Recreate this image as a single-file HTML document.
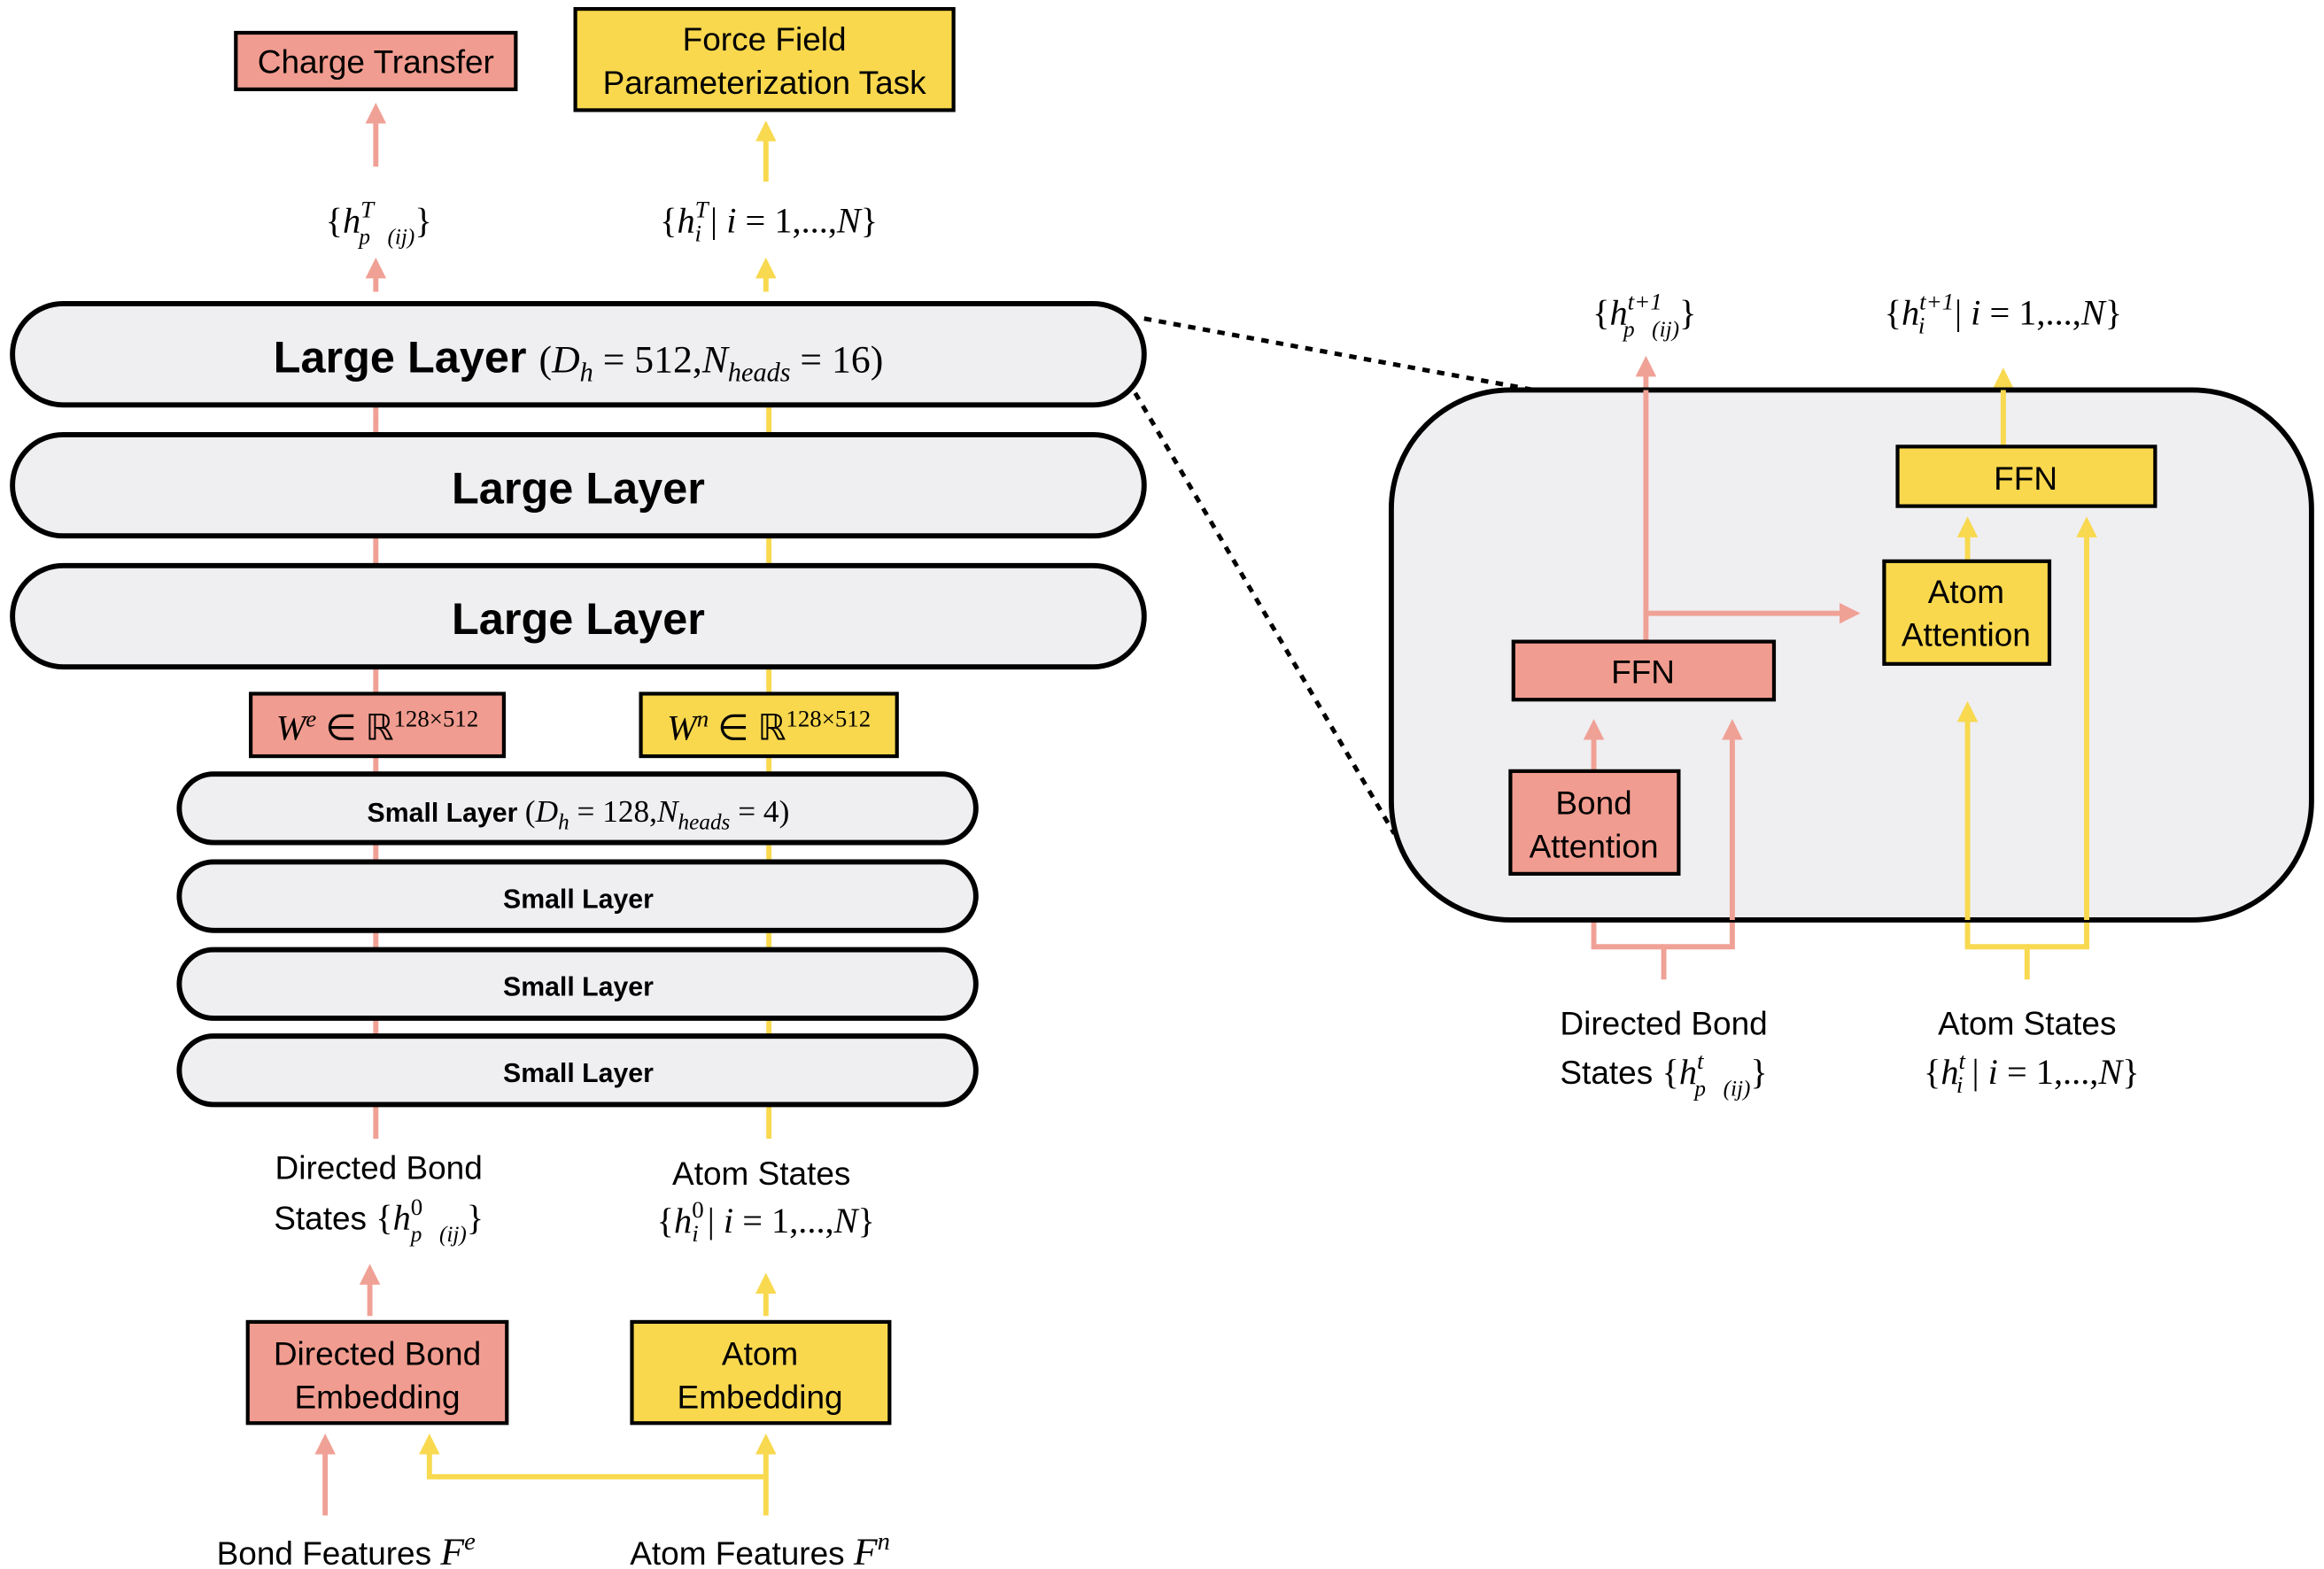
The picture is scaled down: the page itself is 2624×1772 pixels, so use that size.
<!DOCTYPE html>
<html><head><meta charset="utf-8"><style>
html,body{margin:0;padding:0;background:#fff;}
svg{display:block;}
.s{font-family:"Liberation Sans",sans-serif;}
.m{font-family:"Liberation Serif",serif;}
</style></head><body>
<svg width="2624" height="1772" viewBox="0 0 1560 1054" xmlns="http://www.w3.org/2000/svg">
<defs>
<marker id="ap" markerWidth="4" markerHeight="4" refX="2" refY="2" orient="auto" markerUnits="strokeWidth"><path d="M0,0 L4,2 L0,4 Z" fill="#F0A196"/></marker>
<marker id="ay" markerWidth="4" markerHeight="4" refX="2" refY="2" orient="auto" markerUnits="strokeWidth"><path d="M0,0 L4,2 L0,4 Z" fill="#F8D94F"/></marker>
</defs>
<g fill="none" stroke-width="3.5">
<!-- left vertical lines -->
<path d="M252,765 V204" stroke="#F0A196"/>
<path d="M516,765 V204" stroke="#F8D94F"/>
<path d="M252,196 V180" stroke="#F0A196" marker-end="url(#ap)"/>
<path d="M514,196 V180" stroke="#F8D94F" marker-end="url(#ay)"/>
<path d="M252,112 V76" stroke="#F0A196" marker-end="url(#ap)"/>
<path d="M514,122 V88" stroke="#F8D94F" marker-end="url(#ay)"/>
<path d="M248,884 V856" stroke="#F0A196" marker-end="url(#ap)"/>
<path d="M514,884 V862" stroke="#F8D94F" marker-end="url(#ay)"/>
<path d="M218,1018 V970" stroke="#F0A196" marker-end="url(#ap)"/>
<path d="M514,1018 V970" stroke="#F8D94F" marker-end="url(#ay)"/>
<path d="M514,992 H288 V970" stroke="#F8D94F" marker-end="url(#ay)"/>
<!-- right -->
<path d="M1105,431 V246" stroke="#F0A196" marker-end="url(#ap)"/>
<path d="M1105,412 H1242" stroke="#F0A196" marker-end="url(#ap)"/>
<path d="M1070,518 V490" stroke="#F0A196" marker-end="url(#ap)"/>
<path d="M1117,658 V636 H1163 V490" stroke="#F0A196" marker-end="url(#ap)"/>
<path d="M1117,636 H1070 V602" stroke="#F0A196" marker-end="url(#ap)"/>
<path d="M1361,658 V636 H1321 V478" stroke="#F8D94F" marker-end="url(#ay)"/>
<path d="M1361,636 H1401 V354" stroke="#F8D94F" marker-end="url(#ay)"/>
<path d="M1321,377 V354" stroke="#F8D94F" marker-end="url(#ay)"/>
<path d="M1345,300 V254" stroke="#F8D94F" marker-end="url(#ay)"/>
</g>
<!-- dotted -->
<path d="M768,214 L1030,262 M762,264 L936,560" stroke="#000" stroke-width="3" stroke-dasharray="5,5" fill="none"/>
<!-- boxes -->
<g stroke="#000" stroke-width="2.5">
<rect x="158" y="22" width="188" height="38" fill="#F19C90"/>
<rect x="386" y="6" width="254" height="68" fill="#F9D84E"/>
<rect x="168" y="466" width="170" height="42" fill="#F19C90"/>
<rect x="430" y="466" width="172" height="42" fill="#F9D84E"/>
<rect x="166" y="888" width="174" height="68" fill="#F19C90"/>
<rect x="424" y="888" width="173" height="68" fill="#F9D84E"/>
</g>
<g stroke="#000" stroke-width="3.5" fill="#EFEEF1">
<rect x="8" y="204" width="760" height="68" rx="34"/>
<rect x="8" y="292" width="760" height="68" rx="34"/>
<rect x="8" y="380" width="760" height="68" rx="34"/>
<rect x="120" y="520" width="535" height="46" rx="23"/>
<rect x="120" y="579" width="535" height="46" rx="23"/>
<rect x="120" y="638" width="535" height="46" rx="23"/>
<rect x="120" y="696" width="535" height="46" rx="23"/>
<rect x="934" y="262" width="618" height="356" rx="80"/>
</g>
<path d="M1105,262 V431" stroke="#F0A196" stroke-width="3.5"/>
<path d="M1105,412 H1242" stroke="#F0A196" stroke-width="3.5" marker-end="url(#ap)"/>
<path d="M1070,518 V490" stroke="#F0A196" stroke-width="3.5" marker-end="url(#ap)"/>
<path d="M1163,618 V490" stroke="#F0A196" stroke-width="3.5" marker-end="url(#ap)"/>
<path d="M1321,618 V478" stroke="#F8D94F" stroke-width="3.5" marker-end="url(#ay)"/>
<path d="M1401,618 V354" stroke="#F8D94F" stroke-width="3.5" marker-end="url(#ay)"/>
<path d="M1321,377 V354" stroke="#F8D94F" stroke-width="3.5" marker-end="url(#ay)"/>
<path d="M1345,300 V262" stroke="#F8D94F" stroke-width="3.5"/>
<g stroke="#000" stroke-width="2.5">
<rect x="1274" y="300" width="173" height="40" fill="#F9D84E"/>
<rect x="1265" y="377" width="111" height="69" fill="#F9D84E"/>
<rect x="1016" y="431" width="175" height="39" fill="#F19C90"/>
<rect x="1014" y="518" width="113" height="69" fill="#F19C90"/>
</g>
<!-- text -->
<g class="s" font-size="22" fill="#000" text-anchor="middle">
<text x="252" y="49">Charge Transfer</text>
<text x="513" y="34">Force Field</text>
<text x="513" y="63">Parameterization Task</text>
<text x="253" y="917">Directed Bond</text>
<text x="253" y="946">Embedding</text>
<text x="510" y="917">Atom</text>
<text x="510" y="946">Embedding</text>
<text x="254" y="792">Directed Bond</text>
<text x="511" y="796">Atom States</text>
<text x="232" y="1051">Bond Features <tspan class="m" font-style="italic" font-size="26">F</tspan><tspan class="m" font-style="italic" font-size="17" dy="-10">e</tspan></text>
<text x="510" y="1051">Atom Features <tspan class="m" font-style="italic" font-size="26">F</tspan><tspan class="m" font-style="italic" font-size="17" dy="-10">n</tspan></text>
<text x="1360" y="329">FFN</text>
<text x="1320" y="405">Atom</text>
<text x="1320" y="434">Attention</text>
<text x="1103" y="459">FFN</text>
<text x="1070" y="547">Bond</text>
<text x="1070" y="576">Attention</text>
<text x="1117" y="695">Directed Bond</text>
<text x="1361" y="695">Atom States</text>
</g>
<g class="s" font-weight="bold" fill="#000" text-anchor="middle">
<text x="388" y="338" font-size="30">Large Layer</text>
<text x="388" y="426" font-size="30">Large Layer</text>
<text x="388" y="610" font-size="18">Small Layer</text>
<text x="388" y="669" font-size="18">Small Layer</text>
<text x="388" y="727" font-size="18">Small Layer</text>
</g>
<!-- Large layer with math -->
<text x="388" y="250" text-anchor="middle" font-size="30"><tspan class="s" font-weight="bold">Large Layer </tspan><tspan class="m" font-size="26">(<tspan font-style="italic">D</tspan><tspan font-style="italic" font-size="18" dy="6">h</tspan><tspan dy="-6"> = 512,</tspan><tspan font-style="italic">N</tspan><tspan font-style="italic" font-size="18" dy="6">heads</tspan><tspan dy="-6"> = 16)</tspan></tspan></text>
<text x="388" y="552" text-anchor="middle" font-size="18"><tspan class="s" font-weight="bold">Small Layer </tspan><tspan class="m" font-size="21">(<tspan font-style="italic">D</tspan><tspan font-style="italic" font-size="15" dy="5">h</tspan><tspan dy="-5"> = 128,</tspan><tspan font-style="italic">N</tspan><tspan font-style="italic" font-size="15" dy="5">heads</tspan><tspan dy="-5"> = 4)</tspan></tspan></text>
<g class="m" fill="#000" font-size="24">
<text x="253" y="497" text-anchor="middle"><tspan font-style="italic">W</tspan><tspan font-style="italic" font-size="16" dy="-9">e</tspan><tspan dy="9"> ∈ ℝ</tspan><tspan font-size="16" dy="-9">128×512</tspan></text>
<text x="516" y="497" text-anchor="middle"><tspan font-style="italic">W</tspan><tspan font-style="italic" font-size="16" dy="-9">n</tspan><tspan dy="9"> ∈ ℝ</tspan><tspan font-size="16" dy="-9">128×512</tspan></text>
<text x="254" y="156" text-anchor="middle">{<tspan font-style="italic">h</tspan><tspan font-style="italic" font-size="16" dy="-10">T</tspan><tspan font-style="italic" font-size="15" dx="-10" dy="18">p⃗(ij)</tspan><tspan dy="-8">}</tspan></text>
<text x="516" y="156" text-anchor="middle">{<tspan font-style="italic">h</tspan><tspan font-style="italic" font-size="16" dy="-10">T</tspan><tspan font-style="italic" font-size="16" dx="-9" dy="16">i</tspan><tspan dy="-6"> | </tspan><tspan font-style="italic">i</tspan> = 1,...,<tspan font-style="italic">N</tspan>}</text>
<text x="254" y="826" text-anchor="middle"><tspan class="s" font-size="22">States </tspan>{<tspan font-style="italic">h</tspan><tspan font-size="16" dy="-10">0</tspan><tspan font-style="italic" font-size="15" dx="-8" dy="18">p⃗(ij)</tspan><tspan dy="-8">}</tspan></text>
<text x="514" y="828" text-anchor="middle">{<tspan font-style="italic">h</tspan><tspan font-size="16" dy="-10">0</tspan><tspan font-style="italic" font-size="16" dx="-8" dy="16">i</tspan><tspan dy="-6"> | </tspan><tspan font-style="italic">i</tspan> = 1,...,<tspan font-style="italic">N</tspan>}</text>
<text x="1104" y="218" text-anchor="middle">{<tspan font-style="italic">h</tspan><tspan font-style="italic" font-size="16" dy="-10">t+1</tspan><tspan font-style="italic" font-size="15" dx="-26" dy="18">p⃗(ij)</tspan><tspan dy="-8">}</tspan></text>
<text x="1345" y="218" text-anchor="middle">{<tspan font-style="italic">h</tspan><tspan font-style="italic" font-size="16" dy="-10">t+1</tspan><tspan font-style="italic" font-size="16" dx="-24" dy="16">i</tspan><tspan dx="14" dy="-6"> | </tspan><tspan font-style="italic">i</tspan> = 1,...,<tspan font-style="italic">N</tspan>}</text>
<text x="1117" y="728" text-anchor="middle"><tspan class="s" font-size="22">States </tspan>{<tspan font-style="italic">h</tspan><tspan font-style="italic" font-size="16" dy="-10">t</tspan><tspan font-style="italic" font-size="15" dx="-6" dy="18">p⃗(ij)</tspan><tspan dy="-8">}</tspan></text>
<text x="1364" y="728" text-anchor="middle">{<tspan font-style="italic">h</tspan><tspan font-style="italic" font-size="16" dy="-10">t</tspan><tspan font-style="italic" font-size="16" dx="-6" dy="16">i</tspan><tspan dy="-6"> | </tspan><tspan font-style="italic">i</tspan> = 1,...,<tspan font-style="italic">N</tspan>}</text>
</g>
</svg>
</body></html>
